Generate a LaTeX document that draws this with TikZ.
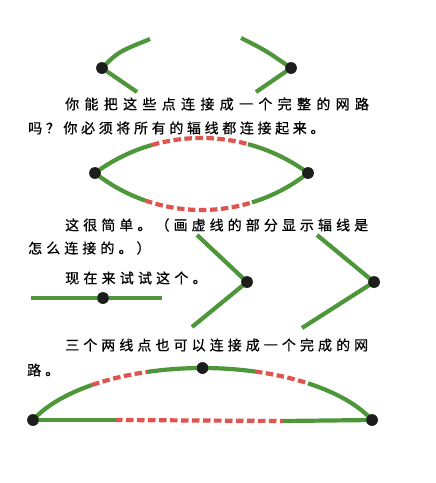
\documentclass[tikz,border=0pt]{standalone}
\usepackage{fontspec}
\newfontfamily\cjk[FakeBold=0.6]{Noto Sans CJK SC}
\definecolor{lgreen}{RGB}{78,150,58}
\definecolor{lred}{RGB}{222,84,78}
\definecolor{ldot}{RGB}{28,30,28}
\newcommand{\cjkline}[2]{{\cjk\addfontfeature{LetterSpace=#1}#2}}
\begin{document}
\begin{tikzpicture}[x=1pt,y=-1pt,
  gr/.style={draw=lgreen,line width=4.2pt},
  rd/.style={draw=lred,line width=4.2pt,dash pattern=on 7.5pt off 3.5pt},
  dotnode/.style={circle,fill=ldot,inner sep=0pt,minimum size=11.5pt},
  txt/.style={anchor=west,inner sep=0pt,font=\fontsize{14pt}{14pt}\selectfont,text=black}]
\useasboundingbox[fill=white] (0,0) rectangle (436,483);

% ---- top chevrons ----
\node[dotnode] (t1) at (102,68) {};
\node[dotnode] (t2) at (291,68) {};
\coordinate (t1a) at (150,39);
\coordinate (t1b) at (137,92);
\coordinate (t2a) at (241,38);
\coordinate (t2b) at (256,92);
\draw[gr] (t1.center) .. controls (118,52) .. (t1a);
\draw[gr] (t1.center) -- (t1b);
\draw[gr] (t2a) .. controls (265,50) .. (t2.center);
\draw[gr] (t2.center) -- (t2b);
\node[dotnode] at (t1) {};
\node[dotnode] at (t2) {};

% ---- text 1 ----
\node[txt] (p1) at (65,104) {\cjkline{38}{你能把这些点连接成一个完整的网路}};
\node[txt] (p2) at (28,128) {\cjkline{26}{吗？你必须将所有的辐线都连接起来。}};

% ---- lens ----
\node[dotnode] (l1) at (95,173) {};
\node[dotnode] (l2) at (308,173) {};
\coordinate (cT) at (201.5,317.5);
\coordinate (cB) at (201.5,38.2);
\draw[gr] (l1.center) arc[start angle=233.6,end angle=254,radius=179.5];
\draw[rd] (cT) ++(254:179.5) arc[start angle=254,end angle=285,radius=179.5];
\draw[gr] (cT) ++(285:179.5) arc[start angle=285,end angle=306.4,radius=179.5];
\draw[gr] (l1.center) arc[start angle=128.3,end angle=109.2,radius=171.8];
\draw[rd] (cB) ++(109.2:171.8) arc[start angle=109.2,end angle=72.9,radius=171.8];
\draw[gr] (cB) ++(72.9:171.8) arc[start angle=72.9,end angle=51.7,radius=171.8];
\node[dotnode] at (l1) {};
\node[dotnode] at (l2) {};

% ---- text 2 ----
\node[txt] (p3) at (65,225) {\cjkline{29}{这很简单。（画虚线的部分显示辐线是}};
\node[txt] (p4) at (28,248) {\cjkline{29}{怎么连接的。）}};
\node[txt] (p5) at (65,278) {\cjkline{30}{现在来试试这个。}};

% ---- middle figures ----
\node[dotnode] (m0) at (103,298) {};
\coordinate (m0a) at (31,298);
\coordinate (m0b) at (162,298);
\draw[gr] (m0a) -- (m0b);
\node[dotnode] at (m0) {};

\node[dotnode] (m1) at (247,282) {};
\coordinate (m1a) at (197,235);
\coordinate (m1b) at (192,327);
\draw[gr] (m1a) -- (m1.center) -- (m1b);
\node[dotnode] at (m1) {};

\node[dotnode] (m2) at (374,282) {};
\coordinate (m2a) at (317,235);
\coordinate (m2b) at (302,328);
\draw[gr] (m2a) -- (m2.center) -- (m2b);
\node[dotnode] at (m2) {};

% ---- text 3 ----
\node[txt] (p6) at (65,345) {\cjkline{29}{三个两线点也可以连接成一个完成的网}};
\node[txt] (p7) at (27,370) {\cjkline{29}{路。}};

% ---- bottom figure ----
\node[dotnode] (b1) at (33,420) {};
\node[dotnode] (b2) at (202.5,368) {};
\node[dotnode] (b3) at (372,420) {};
\coordinate (cE) at (202.5,452.3);
\draw[gr] (b1.center) arc[start angle=202.5,end angle=233,x radius=183.5,y radius=84.3];
\draw[rd] (cE) ++(233:183.5 and 84.3) arc[start angle=233,end angle=252.4,x radius=183.5,y radius=84.3];
\draw[gr] (cE) ++(252.4:183.5 and 84.3) arc[start angle=252.4,end angle=286.6,x radius=183.5,y radius=84.3];
\draw[rd] (cE) ++(286.6:183.5 and 84.3) arc[start angle=286.6,end angle=305.1,x radius=183.5,y radius=84.3];
\draw[gr] (cE) ++(305.1:183.5 and 84.3) arc[start angle=305.1,end angle=337.5,x radius=183.5,y radius=84.3];
\coordinate (b13a) at (115,420);
\coordinate (b13b) at (283,421);
\draw[gr] (b1.center) -- (b13a);
\draw[rd] (b13a) -- (b13b);
\draw[gr] (b13b) -- (b3.center);
\node[dotnode] at (b1) {};
\node[dotnode] at (b2) {};
\node[dotnode] at (b3) {};
\end{tikzpicture}
\end{document}
